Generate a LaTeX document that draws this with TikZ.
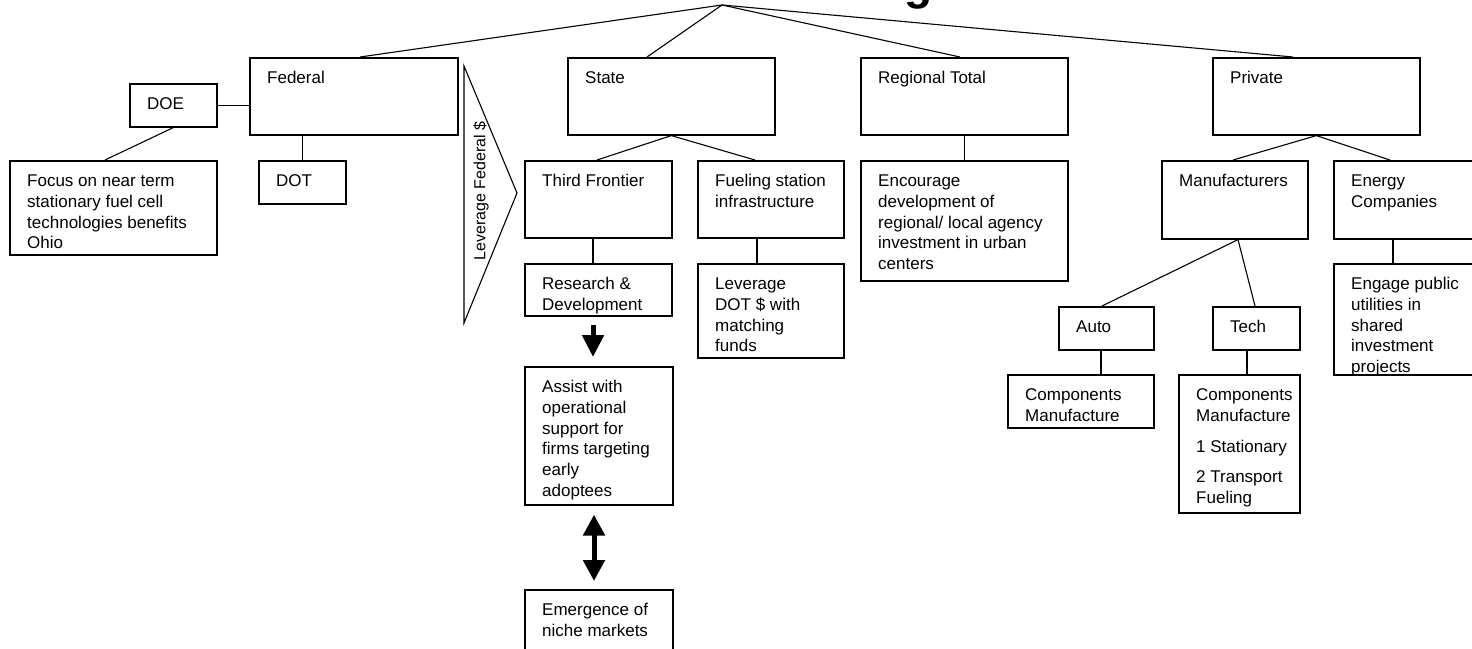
\documentclass[tikz,border=0pt]{standalone}
\usepackage{fontspec}
\setmainfont{Liberation Sans}
\usetikzlibrary{arrows.meta}
\newcommand\fs{\fontsize{17}{20.7}\selectfont}
\newcommand\mybox[6]{%
  \node[bx,minimum width=#4pt,minimum height=#5pt] (#1) at (#2,#3) {};
  \node[lbl] (#1t) at ([shift={(18,12)}]#1.north west) {\strut #6};}
\begin{document}
\begin{tikzpicture}[x=1pt,y=-1pt,
  bx/.style={draw, line width=1.6pt, anchor=north west, inner sep=0pt, rectangle},
  lbl/.style={anchor=north west, inner sep=0pt, align=left, font=\fs},
  ln/.style={line width=1.1pt},
  bigarrow/.style={line width=5pt, -{Triangle[width=21pt,length=22pt]}}]
\useasboundingbox (0,0) rectangle (1472,648);
\clip (0,0) rectangle (1472,648);
\fill[white] (0,0) rectangle (1472,648);

% title (only its lowest part lies in the picture)
\node[anchor=base east, inner sep=0pt, font=\fontsize{46}{46}\bfseries\selectfont] (title) at (933,-1) {Funding};
\coordinate (top) at (722,5);

% boxes
\mybox{doe}{129}{83}{87}{43}{DOE}
\mybox{fed}{249}{57}{208}{77}{Federal}
\mybox{focus}{9}{160}{207}{94}{Focus on near term\\stationary fuel cell\\technologies benefits\\Ohio}
\mybox{dot}{258}{160}{87}{43}{DOT}
\mybox{state}{567}{57}{207}{77}{State}
\mybox{third}{524}{160}{147}{77}{Third Frontier}
\mybox{fuel}{697}{160}{146}{77}{Fueling station\\infrastructure}
\mybox{rd}{524}{263}{147}{52}{Research \&\\Development}
\mybox{levdot}{697}{263}{146}{94}{Leverage\\DOT \$ with\\matching\\funds}
\mybox{assist}{524}{366}{148}{138}{Assist with\\operational\\support for\\firms targeting\\early\\adoptees}
\mybox{emerg}{524}{589}{148}{80}{Emergence of\\niche markets}
\mybox{reg}{860}{57}{207}{77}{Regional Total}
\mybox{enc}{860}{160}{207}{120}{Encourage\\development of\\regional/ local agency\\investment in urban\\centers}
\mybox{priv}{1212}{57}{207}{77}{Private}
\mybox{manu}{1161}{160}{146}{78}{Manufacturers}
\mybox{energy}{1333}{160}{160}{78}{Energy\\Companies}
\mybox{engage}{1333}{263}{160}{111}{Engage public\\utilities in\\shared\\investment\\projects}
\mybox{auto}{1058}{306}{95}{43}{Auto}
\mybox{tech}{1212}{306}{87}{43}{Tech}
\mybox{autoc}{1007}{374}{146}{53}{Components\\Manufacture}
\mybox{techc}{1178}{374}{121}{138}{Components\\Manufacture\\[10pt]1 Stationary\\[10pt]2 Transport\\Fueling}

% connectors from the top
\draw[ln] (top) -- ([xshift=111pt]fed.north west);
\draw[ln] (top) -- ([xshift=80pt]state.north west);
\draw[ln] (top) -- ([xshift=100pt]reg.north west);
\draw[ln] (top) -- ([xshift=81pt]priv.north west);

% federal branch
\draw[ln] (doe.east) -- (doe.east -| fed.west);
\draw[ln] (doe.south) -- ([xshift=96pt]focus.north west);
\draw[ln] (dot.north |- fed.south) -- (dot.north);

% leverage triangle
\draw[ln] (464,66) -- (517,193) -- (464,323) -- cycle;
\node[rotate=90, inner sep=0pt, font=\fontsize{16}{19}\selectfont] (levfed) at (481,191) {Leverage Federal \$};

% state branch
\draw[ln] (state.south) -- ([xshift=73pt]third.north west);
\draw[ln] (state.south) -- ([xshift=58pt]fuel.north west);
\draw[ln] ([xshift=69pt]third.south west) -- ([xshift=69pt]rd.north west);
\draw[ln] ([xshift=60pt]fuel.south west) -- ([xshift=60pt]levdot.north west);
\draw[bigarrow, shorten <=8pt, shorten >=9pt] ([xshift=69pt]rd.south west) -- ([xshift=69pt]assist.north west);
\draw[line width=5pt, {Triangle[width=21pt,length=21pt]}-{Triangle[width=21pt,length=21pt]}, shorten <=9pt, shorten >=8pt]
  ([xshift=70pt]assist.south west) -- ([xshift=70pt]emerg.north west);

% regional branch
\draw[ln] (reg.south) -- (enc.north);

% private branch
\draw[ln] (priv.south) -- ([xshift=72pt]manu.north west);
\draw[ln] (priv.south) -- ([xshift=57pt]energy.north west);
\draw[ln] ([xshift=60pt]energy.south west) -- ([xshift=60pt]engage.north west);
\draw[ln] ([xshift=77pt]manu.south west) -- ([xshift=44pt]auto.north west);
\draw[ln] ([xshift=77pt]manu.south west) -- ([xshift=43pt]tech.north west);
\draw[ln] ([xshift=43pt]auto.south west) -- ([xshift=43pt]auto.south west |- autoc.north);
\draw[ln] ([xshift=35pt]tech.south west) -- ([xshift=35pt]tech.south west |- techc.north);
\end{tikzpicture}
\end{document}
